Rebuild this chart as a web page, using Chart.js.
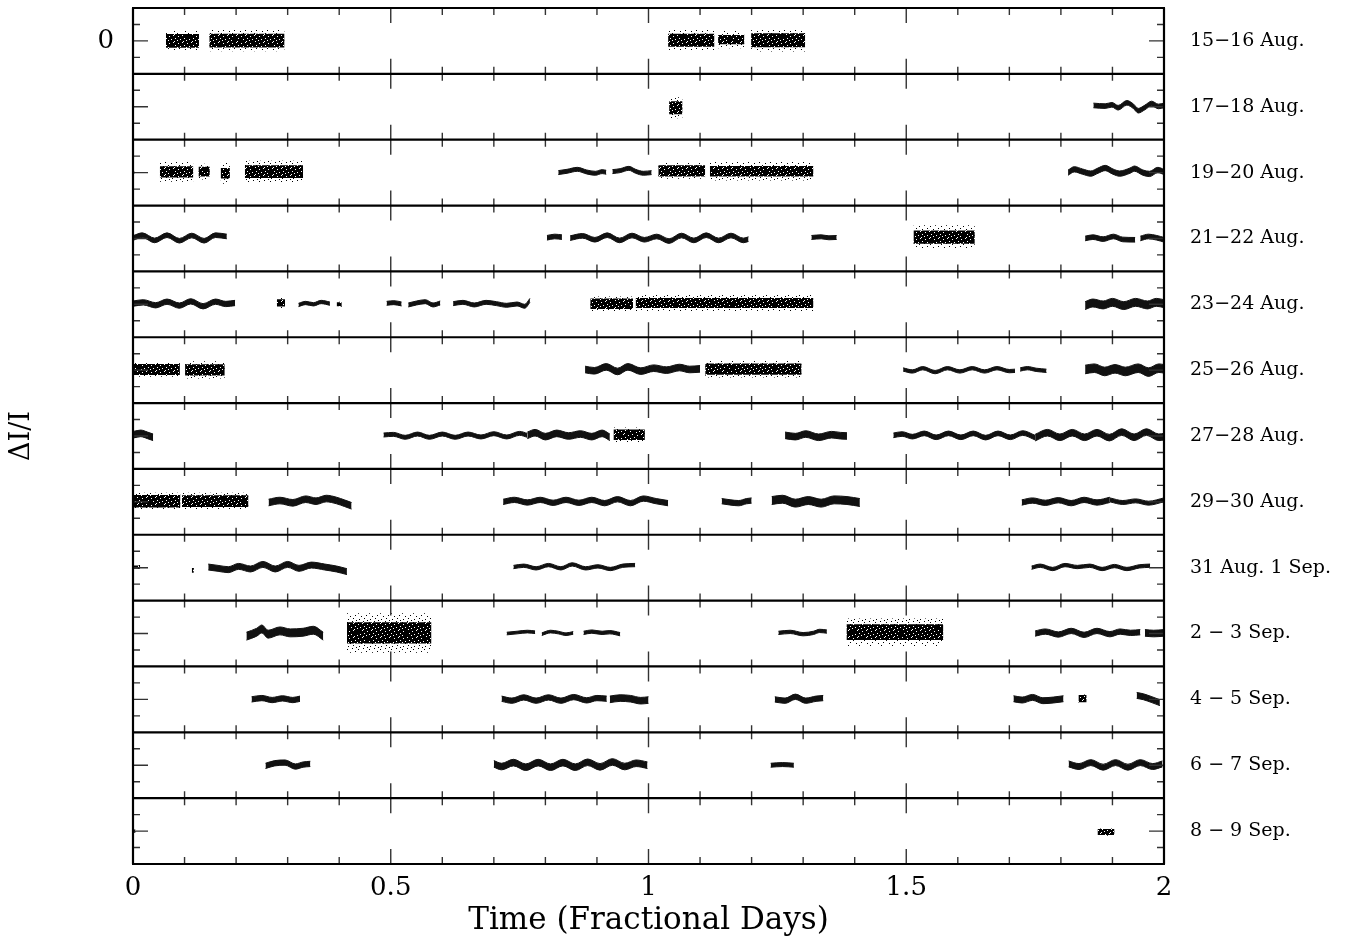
<!DOCTYPE html>
<html>
<head>
<meta charset="utf-8">
<script src="https://cdn.jsdelivr.net/npm/chart.js@4.4.0/dist/chart.umd.min.js"></script>
<style>
  html, body { margin: 0; background: #fff; }
  #wrap { width: 1363px; height: 940px; position: relative; }
</style>
</head>
<body>
<div id="wrap"><canvas id="lightcurves"></canvas></div>
<script>
// Night labels, one panel each (top to bottom)
const panelLabels = ['15−16 Aug.', '17−18 Aug.', '19−20 Aug.', '21−22 Aug.', '23−24 Aug.', '25−26 Aug.',
  '27−28 Aug.', '29−30 Aug.', '31 Aug. 1 Sep.', '2 − 3 Sep.', '4 − 5 Sep.', '6 − 7 Sep.', '8 − 9 Sep.'];

// Axis ticks
const xTicks = [0, 0.5, 1, 1.5, 2];
const yTickValues = [-0.05, 0, 0.05];

// Noisy runs per panel: [start, end, mean ΔI/I, dense scatter, full scatter]
const noisyRuns = [
  [[0.064, 0.128, 0.000, 0.021, 0.030], [0.148, 0.294, 0.001, 0.021, 0.032], [1.038, 1.128, 0.002, 0.020, 0.032],
   [1.135, 1.186, 0.004, 0.014, 0.026], [1.199, 1.304, 0.002, 0.021, 0.034]],
  [[1.040, 1.066, -0.003, 0.020, 0.032]],
  [[0.000, 0.003, 0.000, 0.004, 0.005], [0.052, 0.117, 0.002, 0.017, 0.030], [0.127, 0.149, 0.003, 0.015, 0.024],
   [0.170, 0.188, -0.002, 0.016, 0.032], [0.217, 0.330, 0.003, 0.019, 0.033], [1.019, 1.110, 0.005, 0.017, 0.024],
   [1.119, 1.320, 0.004, 0.016, 0.028]],
  [[1.514, 1.633, 0.004, 0.020, 0.036]],
  [[0.279, 0.295, 0.004, 0.011, 0.015], [0.395, 0.405, 0.000, 0.006, 0.008], [0.887, 0.970, 0.002, 0.016, 0.022],
   [0.975, 1.320, 0.004, 0.015, 0.024]],
  [[0.001, 0.091, 0.002, 0.017, 0.022], [0.101, 0.178, 0.001, 0.017, 0.026], [1.110, 1.297, 0.003, 0.017, 0.025]],
  [[0.932, 0.993, 0.004, 0.016, 0.022]],
  [[0.001, 0.092, 0.002, 0.019, 0.026], [0.095, 0.224, 0.002, 0.018, 0.026]],
  [[0.000, 0.014, 0.002, 0.005, 0.008], [0.114, 0.118, -0.008, 0.007, 0.007]],
  [[0.415, 0.579, 0.002, 0.032, 0.060], [1.384, 1.572, 0.004, 0.024, 0.042]],
  [[1.834, 1.850, 0.002, 0.011, 0.013]],
  [],
  [[0.000, 0.005, 0.000, 0.005, 0.006], [1.871, 1.904, -0.003, 0.009, 0.011]]
];

// Oscillating runs per panel: [scatter, t0, ΔI/I0, t1, ΔI/I1, ...] (turning points)
const waveRuns = [
  [],
  [[0.007, 1.863, 0.004, 1.886, 0.002, 1.899, 0.006, 1.911, -0.003, 1.928, 0.012, 1.941, 0.001, 1.950, -0.012,
    1.963, -0.002, 1.976, 0.010, 1.989, 0.001, 2.000, 0.004]],
  [[0.006, 0.825, 0.000, 0.842, 0.004, 0.862, 0.010, 0.880, 0.002, 0.897, -0.002, 0.910, 0.003, 0.918, 0.001],
   [0.006, 0.930, 0.003, 0.945, 0.006, 0.962, 0.013, 0.975, 0.004, 0.990, -0.002, 1.006, 0.000],
   [0.008, 1.814, 0.000, 1.826, 0.010, 1.842, 0.003, 1.858, -0.003, 1.872, 0.006, 1.886, 0.014, 1.901, 0.003,
    1.914, -0.003, 1.934, 0.006, 1.943, 0.012, 1.959, 0.000, 1.972, -0.004, 1.988, 0.008, 2.000, 0.002]],
  [[0.007, 0.001, 0.002, 0.018, 0.010, 0.042, -0.006, 0.066, 0.010, 0.090, -0.007, 0.114, 0.009, 0.138, -0.007,
    0.160, 0.010, 0.182, 0.006],
   [0.007, 0.803, 0.002, 0.818, 0.006, 0.832, 0.004],
   [0.007, 0.848, 0.001, 0.872, 0.008, 0.896, -0.004, 0.920, 0.010, 0.944, -0.006, 0.968, 0.009, 0.992, -0.004,
    1.016, 0.006, 1.040, -0.008, 1.064, 0.009, 1.088, -0.006, 1.112, 0.010, 1.136, -0.006, 1.160, 0.009,
    1.184, -0.006, 1.194, -0.002],
   [0.006, 1.316, 0.003, 1.335, 0.005, 1.350, 0.002, 1.365, 0.003],
   [0.007, 1.847, 0.000, 1.862, 0.004, 1.882, -0.002, 1.902, 0.006, 1.920, -0.003, 1.944, -0.004],
   [0.007, 1.954, 0.000, 1.970, 0.006, 1.986, 0.002, 2.000, -0.004]],
  [[0.008, 0.000, 0.002, 0.020, 0.006, 0.044, -0.003, 0.066, 0.008, 0.090, -0.004, 0.112, 0.009, 0.136, -0.006,
    0.160, 0.008, 0.180, 0.001, 0.198, 0.004],
   [0.005, 0.321, -0.002, 0.335, 0.004, 0.350, 0.000, 0.365, 0.007, 0.382, 0.002],
   [0.006, 0.492, 0.003, 0.506, 0.005, 0.521, 0.001],
   [0.006, 0.534, -0.002, 0.550, 0.004, 0.567, 0.008, 0.582, -0.002, 0.596, 0.004],
   [0.006, 0.621, 0.002, 0.640, 0.006, 0.662, -0.002, 0.685, 0.006, 0.705, 0.002, 0.725, -0.003, 0.745, 0.001,
    0.760, -0.006, 0.770, 0.012],
   [0.012, 1.847, -0.004, 1.862, 0.004, 1.882, -0.002, 1.900, 0.006, 1.922, -0.004, 1.945, 0.006, 1.968, -0.002,
    1.985, 0.006, 2.000, 0.002]],
  [[0.010, 0.877, 0.002, 0.895, -0.002, 0.918, 0.010, 0.940, -0.004, 0.960, 0.010, 0.985, -0.003, 1.010, 0.006,
    1.035, 0.000, 1.060, 0.008, 1.080, 0.002, 1.100, 0.004],
   [0.005, 1.494, 0.002, 1.512, -0.004, 1.532, 0.006, 1.556, -0.006, 1.580, 0.006, 1.604, -0.004, 1.628, 0.006,
    1.652, -0.004, 1.676, 0.006, 1.700, -0.003, 1.711, -0.002],
   [0.005, 1.721, 0.002, 1.735, 0.006, 1.752, 0.001, 1.772, -0.002],
   [0.013, 1.847, 0.002, 1.865, 0.006, 1.885, -0.004, 1.905, 0.004, 1.925, -0.004, 1.950, 0.006, 1.970, -0.006,
    1.990, 0.006, 2.000, 0.004]],
  [[0.010, 0.001, 0.004, 0.015, 0.008, 0.028, 0.002, 0.039, -0.004],
   [0.006, 0.486, 0.003, 0.505, 0.005, 0.528, -0.004, 0.552, 0.006, 0.575, -0.004, 0.600, 0.006, 0.625, -0.004,
    0.650, 0.006, 0.675, -0.003, 0.700, 0.007, 0.725, -0.003, 0.750, 0.008, 0.765, 0.002],
   [0.010, 0.765, 0.002, 0.780, 0.010, 0.800, -0.002, 0.822, 0.008, 0.845, 0.000, 0.868, 0.006, 0.890, -0.002,
    0.910, 0.008, 0.925, -0.004],
   [0.010, 1.265, 0.002, 1.285, -0.002, 1.305, 0.006, 1.330, -0.004, 1.355, 0.004, 1.372, 0.001, 1.385, 0.000],
   [0.007, 1.475, 0.002, 1.492, 0.006, 1.512, -0.002, 1.535, 0.008, 1.558, -0.004, 1.582, 0.008, 1.606, -0.004,
    1.630, 0.008, 1.654, -0.005, 1.678, 0.008, 1.702, -0.004, 1.726, 0.009, 1.750, -0.005],
   [0.010, 1.750, -0.005, 1.774, 0.010, 1.798, -0.004, 1.822, 0.010, 1.846, -0.004, 1.870, 0.010, 1.894, -0.005,
    1.918, 0.012, 1.942, -0.004, 1.966, 0.012, 1.990, -0.004, 2.000, -0.002]],
  [[0.010, 0.263, -0.002, 0.285, 0.004, 0.310, -0.003, 0.335, 0.008, 0.355, 0.002, 0.375, 0.010, 0.395, 0.004,
    0.410, -0.004, 0.424, -0.012],
   [0.008, 0.718, 0.000, 0.740, 0.006, 0.765, -0.002, 0.790, 0.006, 0.815, -0.003, 0.840, 0.006, 0.865, -0.003,
    0.890, 0.006, 0.915, -0.004, 0.940, 0.008, 0.965, -0.004, 0.990, 0.010, 1.015, 0.002, 1.038, -0.004],
   [0.008, 1.142, 0.002, 1.160, -0.002, 1.175, -0.004, 1.190, 0.002, 1.200, 0.004],
   [0.012, 1.239, 0.004, 1.260, 0.008, 1.285, -0.004, 1.310, 0.004, 1.335, -0.004, 1.360, 0.006, 1.385, 0.004,
    1.410, -0.002],
   [0.008, 1.724, -0.002, 1.745, 0.004, 1.770, -0.003, 1.795, 0.005, 1.820, -0.004, 1.845, 0.006, 1.870, -0.002,
    1.895, 0.006],
   [0.006, 1.895, 0.006, 1.920, -0.002, 1.945, 0.003, 1.970, -0.004, 2.000, 0.006]],
  [[0.009, 0.146, 0.002, 0.165, -0.002, 0.185, -0.006, 0.205, 0.004, 0.228, -0.004, 0.252, 0.010, 0.276, -0.004,
    0.300, 0.010, 0.322, -0.002, 0.346, 0.008, 0.372, 0.002, 0.395, -0.004, 0.415, -0.012],
   [0.005, 0.738, 0.002, 0.758, 0.006, 0.782, -0.002, 0.806, 0.008, 0.830, -0.002, 0.852, 0.010, 0.878, -0.002,
    0.902, 0.004, 0.926, -0.004, 0.950, 0.006, 0.974, 0.008],
   [0.005, 1.743, 0.000, 1.760, 0.006, 1.784, -0.004, 1.808, 0.008, 1.832, 0.002, 1.856, 0.006, 1.880, -0.004,
    1.904, 0.005, 1.928, -0.004, 1.952, 0.004, 1.973, 0.006]],
  [[0.012, 0.220, -0.008, 0.240, 0.004, 0.250, 0.014, 0.262, -0.002, 0.285, 0.008, 0.305, 0.002, 0.330, 0.004,
    0.350, 0.010, 0.369, -0.008],
   [0.004, 0.725, 0.000, 0.745, 0.003, 0.765, 0.006, 0.780, 0.004],
   [0.004, 0.793, -0.002, 0.810, 0.006, 0.825, 0.003, 0.840, -0.002, 0.854, 0.002],
   [0.005, 0.874, 0.002, 0.890, 0.006, 0.910, 0.002, 0.925, 0.004, 0.945, -0.002],
   [0.005, 1.252, 0.002, 1.275, 0.005, 1.300, -0.002, 1.320, 0.002, 1.332, 0.008, 1.346, 0.006],
   [0.008, 1.750, 0.000, 1.770, 0.006, 1.795, -0.003, 1.820, 0.008, 1.845, -0.004, 1.870, 0.008, 1.895, -0.002,
    1.915, 0.006, 1.935, 0.002, 1.954, 0.004],
   [0.010, 1.963, 0.002, 1.980, 0.000, 2.000, 0.002]],
  [[0.008, 0.230, 0.000, 0.250, 0.004, 0.270, -0.002, 0.290, 0.003, 0.310, -0.002, 0.324, 0.002],
   [0.008, 0.715, 0.002, 0.735, -0.004, 0.758, 0.006, 0.782, -0.004, 0.806, 0.006, 0.830, -0.004, 0.855, 0.007,
    0.880, -0.003, 0.900, 0.004, 0.919, 0.002],
   [0.010, 0.925, 0.000, 0.945, 0.004, 0.965, 0.002, 0.985, -0.004, 1.000, -0.002],
   [0.008, 1.245, 0.000, 1.265, -0.004, 1.285, 0.008, 1.305, -0.004, 1.325, 0.002, 1.339, 0.004],
   [0.009, 1.708, 0.002, 1.725, -0.002, 1.745, 0.006, 1.765, -0.004, 1.785, -0.002, 1.805, 0.002],
   [0.009, 1.947, 0.012, 1.960, 0.008, 1.975, 0.000, 1.992, -0.010]],
  [[0.008, 0.257, -0.002, 0.275, 0.006, 0.295, 0.008, 0.315, -0.004, 0.330, 0.002, 0.344, 0.004],
   [0.010, 0.700, 0.004, 0.715, -0.004, 0.738, 0.008, 0.762, -0.006, 0.786, 0.008, 0.810, -0.006, 0.834, 0.008,
    0.858, -0.006, 0.882, 0.009, 0.906, -0.005, 0.930, 0.010, 0.954, -0.004, 0.976, 0.006, 0.998, 0.000],
   [0.006, 1.237, 0.000, 1.260, 0.002, 1.282, 0.000],
   [0.009, 1.815, 0.004, 1.835, -0.004, 1.858, 0.008, 1.882, -0.006, 1.906, 0.008, 1.930, -0.006, 1.954, 0.008,
    1.978, -0.004, 1.997, 0.004]],
  []
];

const SPAN = 0.2;                 // ΔI/I range covered by one panel
const N = panelLabels.length;
const centre = i => (N - 1 - i) * SPAN + SPAN / 2;
const serif = 'DejaVu Serif';

// dot textures for the scattered photometry
function makePattern(w, h, holes, dots) {
  const tile = document.createElement('canvas');
  tile.width = w; tile.height = h;
  const g = tile.getContext('2d');
  g.fillStyle = '#000';
  if (dots) {
    dots.forEach(([a, b]) => g.fillRect(a, b, 1, 1));
  } else {
    g.fillRect(0, 0, w, h);
    holes.forEach(([a, b]) => g.clearRect(a, b, 1, 1));
  }
  return g.createPattern(tile, 'repeat');
}
const denseFill = makePattern(9, 7, [[2, 0], [7, 1], [4, 3], [0, 4], [6, 5], [3, 6]]);
const sparseFill = makePattern(11, 9, null, [[0, 0], [6, 1], [3, 3], [9, 4], [1, 6], [7, 7], [4, 8]]);

const datasets = [];
function pushBand(xs, hi, lo, fillStyle, smooth) {
  const common = {
    pointRadius: 0,
    borderWidth: smooth ? 1 : 0,
    borderColor: '#111',
    tension: smooth ? 0.4 : 0,
    cubicInterpolationMode: smooth ? 'monotone' : 'default'
  };
  datasets.push({ ...common, data: xs.map((x, k) => ({ x, y: hi[k] })), fill: false });
  datasets.push({ ...common, data: xs.map((x, k) => ({ x, y: lo[k] })), fill: '-1', backgroundColor: fillStyle });
}

noisyRuns.forEach((runs, i) => {
  runs.forEach(([t0, t1, mean, dense, full]) => {
    const c = centre(i) + mean;
    pushBand([t0, t1], [c + full, c + full], [c - full, c - full], sparseFill, false);
    pushBand([t0, t1], [c + dense, c + dense], [c - dense, c - dense], denseFill, false);
  });
});

waveRuns.forEach((runs, i) => {
  runs.forEach(run => {
    const spread = run[0];
    const xs = [], hi = [], lo = [];
    for (let k = 1; k < run.length; k += 2) {
      xs.push(run[k]);
      hi.push(centre(i) + run[k + 1] + spread);
      lo.push(centre(i) + run[k + 1] - spread);
    }
    pushBand(xs, hi, lo, '#111', true);
  });
});

// panel frames and inward tick marks
const panelFrame = {
  id: 'panelFrame',
  afterDraw(chart) {
    const { ctx, chartArea: area, scales: { x, y } } = chart;
    ctx.save();
    ctx.strokeStyle = '#333';
    ctx.lineWidth = 1.4;
    ctx.beginPath();
    for (let i = 0; i < N; i++) {
      const top = y.getPixelForValue(centre(i) + SPAN / 2);
      const bot = y.getPixelForValue(centre(i) - SPAN / 2);
      for (let k = 0; k <= 20; k++) {
        const px = x.getPixelForValue(k / 10);
        const len = k % 5 === 0 ? 15 : 7;
        ctx.moveTo(px, top); ctx.lineTo(px, top + len);
        ctx.moveTo(px, bot); ctx.lineTo(px, bot - len);
      }
      yTickValues.forEach(v => {
        const py = y.getPixelForValue(centre(i) + v);
        const len = v === 0 ? 15 : 7;
        ctx.moveTo(area.left, py); ctx.lineTo(area.left + len, py);
        ctx.moveTo(area.right, py); ctx.lineTo(area.right - len, py);
      });
    }
    ctx.stroke();

    ctx.strokeStyle = '#000';
    ctx.lineWidth = 2.2;
    ctx.beginPath();
    for (let i = 0; i <= N; i++) {
      const py = y.getPixelForValue(i * SPAN);
      ctx.moveTo(area.left - 1, py); ctx.lineTo(area.right + 1, py);
    }
    ctx.moveTo(area.left, area.top); ctx.lineTo(area.left, area.bottom);
    ctx.moveTo(area.right, area.top); ctx.lineTo(area.right, area.bottom);
    ctx.stroke();
    ctx.restore();
  }
};

function noEdgePadding(s) {
  s.paddingTop = 0; s.paddingBottom = 0; s.paddingLeft = 0; s.paddingRight = 0;
}

new Chart(document.getElementById('lightcurves'), {
  type: 'line',
  data: { datasets },
  plugins: [panelFrame],
  options: {
    responsive: true,
    maintainAspectRatio: false,
    animation: false,
    events: [],
    layout: { padding: { top: 8, left: 0, right: 0, bottom: 0 } },
    plugins: { legend: { display: false }, tooltip: { enabled: false } },
    scales: {
      x: {
        type: 'linear',
        min: 0,
        max: 2,
        afterBuildTicks: s => { s.ticks = xTicks.map(v => ({ value: v })); },
        afterFit: s => { s.height = 76; noEdgePadding(s); },
        grid: { display: false, drawTicks: false },
        border: { display: false },
        ticks: { font: { family: serif, size: 26 }, color: '#000', padding: 9, maxRotation: 0,
          callback: v => String(v) },
        title: { display: true, text: 'Time (Fractional Days)', color: '#000',
          font: { family: serif, size: 31 }, padding: { top: 0, bottom: 0 } }
      },
      y: {
        type: 'linear',
        position: 'left',
        min: 0,
        max: N * SPAN,
        afterBuildTicks: s => { s.ticks = [{ value: centre(0) }]; },
        afterFit: s => { s.width = 133; noEdgePadding(s); },
        grid: { display: false, drawTicks: false },
        border: { display: false },
        ticks: { font: { family: serif, size: 26 }, color: '#000', padding: 19, callback: () => '0' },
        title: { display: true, text: 'ΔI/I', color: '#000', font: { family: serif, size: 27 },
          padding: { top: 6, bottom: 0 } }
      },
      y2: {
        type: 'category',
        position: 'right',
        labels: panelLabels,
        offset: true,
        afterFit: s => { s.width = 199; noEdgePadding(s); },
        grid: { display: false, drawTicks: false },
        border: { display: false },
        ticks: { font: { family: serif, size: 19 }, color: '#000', padding: 26, autoSkip: false }
      }
    }
  }
});
</script>
</body>
</html>
